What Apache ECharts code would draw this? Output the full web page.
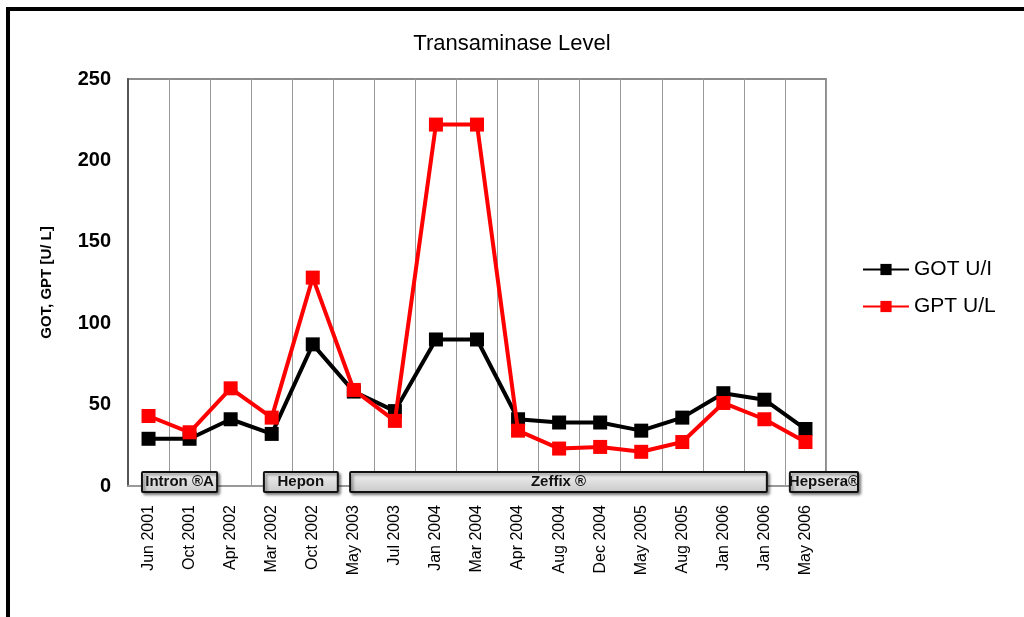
<!DOCTYPE html>
<html>
<head>
<meta charset="utf-8">
<title>Transaminase Level</title>
<script src="https://cdn.jsdelivr.net/npm/echarts@6/dist/echarts.min.js"></script>
<style>
  html, body { margin: 0; padding: 0; background: #fff; }
  #wrap { position: relative; width: 1024px; height: 617px; overflow: hidden; }
  #frame { position: absolute; left: 6px; top: 7px; width: 1100px; height: 700px;
           border-top: 4px solid #000; border-left: 4px solid #000; }
  #main { position: absolute; left: 0; top: 0; width: 1024px; height: 617px; }
</style>
</head>
<body>
<div id="wrap">
  <div id="frame"></div>
  <div id="main"></div>
</div>
<script>
// 数据
var categories = ['Jun 2001', 'Oct 2001', 'Apr 2002', 'Mar 2002', 'Oct 2002', 'May 2003', 'Jul 2003',
  'Jan 2004', 'Mar 2004', 'Apr 2004', 'Aug 2004', 'Dec 2004', 'May 2005', 'Aug 2005',
  'Jan 2006', 'Jan 2006', 'May 2006'];
var got = [29, 29, 41, 32, 87, 58, 46, 90, 90, 41, 39, 39, 34, 42, 57, 53, 35];
var gpt = [43, 33, 60, 42, 128, 59, 40, 222, 222, 34, 23, 24, 21, 27, 51, 41, 27];

// 治疗阶段 (在类目轴上的起止位置)
var therapyNames = ['Intron \u00aeA', 'Hepon', 'Zeffix \u00ae', 'Hepsera\u00ae'];
var therapyStart = [0.34, 3.31, 5.41, 16.12];
var therapyEnd = [2.17, 5.11, 15.56, 17.78];

var therapyData = therapyNames.map(function (n, i) {
  return [therapyStart[i], therapyEnd[i]];
});

var myChart = echarts.init(document.getElementById('main'));

var option = {
  animation: false,
  title: {
    text: 'Transaminase Level',
    left: 'center',
    top: 28,
    textStyle: {
      fontFamily: 'Liberation Sans Narrow, Arial, sans-serif',
      fontWeight: 'normal',
      fontSize: 22,
      color: '#000'
    }
  },
  legend: {
    orient: 'vertical',
    left: 857,
    top: 254,
    itemWidth: 46,
    itemHeight: 14,
    itemGap: 16,
    textStyle: { fontFamily: 'Arial', fontSize: 21, color: '#000' },
    data: ['GOT U/I', 'GPT U/L']
  },
  grid: {
    left: 128,
    right: 198,
    top: 79,
    bottom: 131,
    show: true,
    borderColor: '#8c8c8c',
    borderWidth: 2
  },
  xAxis: [{
    type: 'category',
    data: categories,
    boundaryGap: true,
    axisLine: { lineStyle: { color: '#999', width: 2 } },
    axisTick: { show: false },
    splitLine: { show: true, interval: 0, lineStyle: { color: '#999', width: 1 } },
    axisLabel: {
      interval: 0,
      rotate: 90,
      margin: 19,
      fontFamily: 'Arial',
      fontSize: 16,
      color: '#000'
    }
  }, {
    type: 'value',
    min: 0,
    max: 17,
    show: false
  }],
  yAxis: {
    type: 'value',
    min: 0,
    max: 250,
    interval: 50,
    name: 'GOT, GPT [U/ L]',
    nameLocation: 'middle',
    nameGap: 74,
    nameTextStyle: { fontFamily: 'Arial', fontWeight: 'bold', fontSize: 15, color: '#000' },
    axisLine: { show: true, lineStyle: { color: '#555', width: 2 } },
    axisTick: { show: false },
    splitLine: { show: false },
    axisLabel: {
      margin: 17,
      fontFamily: 'Arial',
      fontWeight: 'bold',
      fontSize: 20,
      color: '#000'
    }
  },
  series: [{
    name: 'GOT U/I',
    type: 'line',
    data: got,
    symbol: 'rect',
    symbolSize: 14,
    lineStyle: { color: '#000', width: 4 },
    itemStyle: { color: '#000' },
    z: 3
  }, {
    name: 'GPT U/L',
    type: 'line',
    data: gpt,
    symbol: 'rect',
    symbolSize: 14,
    lineStyle: { color: '#ff0000', width: 4 },
    itemStyle: { color: '#ff0000' },
    z: 4
  }, {
    name: 'therapy',
    type: 'custom',
    xAxisIndex: 1,
    yAxisIndex: 0,
    clip: false,
    z: 10,
    encode: { x: [0, 1] },
    data: therapyData,
    renderItem: function (params, api) {
      var a = api.coord([api.value(0), 0]);
      var b = api.coord([api.value(1), 0]);
      return {
        type: 'rect',
        shape: { x: a[0], y: a[1] - 14, width: b[0] - a[0], height: 20, r: 1 },
        style: {
          fill: new echarts.graphic.LinearGradient(0, 0, 0, 1, [
            { offset: 0, color: '#f4f4f4' },
            { offset: 1, color: '#c8c8c8' }
          ]),
          stroke: '#111',
          lineWidth: 2,
          shadowBlur: 3,
          shadowOffsetX: 2,
          shadowOffsetY: 2,
          shadowColor: 'rgba(0,0,0,0.45)'
        },
        textContent: {
          style: {
            text: therapyNames[params.dataIndex],
            fontFamily: 'Arial',
            fontWeight: 'bold',
            fontSize: 15,
            fill: '#111'
          }
        },
        textConfig: { position: 'inside' }
      };
    }
  }]
};

myChart.setOption(option);
</script>
</body>
</html>
